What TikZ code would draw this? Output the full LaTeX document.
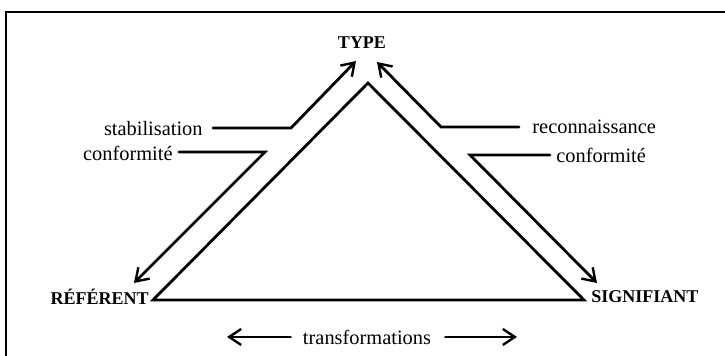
\documentclass[tikz,border=0pt]{standalone}
\usepackage{fontspec}
\setmainfont{Liberation Serif}
\usetikzlibrary{arrows.meta}
\begin{document}
\begin{tikzpicture}[line cap=round,line join=miter,>={Straight Barb[length=6pt,width=8pt,line width=1.2pt]},x=0.5pt,y=-0.5pt,
  lbl/.style={inner sep=1pt,font=\fontsize{10.2}{12}\selectfont},
  sommet/.style={inner sep=1pt,font=\fontsize{9}{11}\selectfont\bfseries},
  trait/.style={line width=1.4pt}]
\useasboundingbox (0,0) rectangle (725,356);
% cadre
\draw[line width=1pt] (725,12)--(6,12)--(6,360);
% sommets
\node[sommet] (type) at (362,43) {TYPE};
\node[sommet,anchor=east] (ref) at (151,297) {RÉFÉRENT};
\node[sommet,anchor=west] (sig) at (589,297) {SIGNIFIANT};
\coordinate (apex) at (368,83);
\coordinate (refc) at (153,300);
\coordinate (sigc) at (584,300);
\draw[trait] (refc)--(apex)--(sigc)--cycle;
% fleches gauche
\node[lbl,anchor=east] (stab) at (205,129) {stabilisation};
\node[lbl,anchor=east] (confg) at (175,153) {conformité};
\coordinate (s1) at (213,128);
\coordinate (s2) at (291,128);
\coordinate (s3) at (356,61);
\draw[trait,->] (s1)--(s2)--(s3);
\coordinate (c1) at (179,152);
\coordinate (c2) at (265,152);
\coordinate (c3) at (134,283);
\draw[trait,->] (c1)--(c2)--(c3);
% fleches droite
\node[lbl,anchor=west] (reco) at (530,127) {reconnaissance};
\node[lbl,anchor=west] (confd) at (554,155) {conformité};
\coordinate (r1) at (519,127);
\coordinate (r2) at (441,127);
\coordinate (r3) at (377,62);
\draw[trait,->] (r1)--(r2)--(r3);
\coordinate (d1) at (550,155);
\coordinate (d2) at (470,155);
\coordinate (d3) at (597,283);
\draw[trait,->] (d1)--(d2)--(d3);
% transformations
\node[lbl] (trans) at (367,337) {transformations};
\coordinate (tg) at (227,337);
\coordinate (td) at (517,337);
\draw[trait,->] (trans.west)++(-10,0)--(tg);
\draw[trait,->] (trans.east)++(12,0)--(td);
\end{tikzpicture}
\end{document}
